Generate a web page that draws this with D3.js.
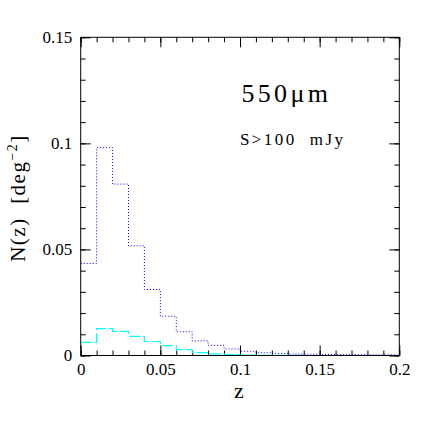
<!DOCTYPE html>
<html>
<head>
<meta charset="utf-8">
<script src="https://cdn.jsdelivr.net/npm/d3@7"></script>
<style>
  html, body { margin: 0; padding: 0; background: #fff; }
  svg { display: block; }
  text { font-family: "Liberation Serif", "DejaVu Serif", "Noto Serif", serif; fill: #000; white-space: pre; }
</style>
</head>
<body>
<script>
// ---- data ----
const binEdges = [0, 0.01, 0.02, 0.03, 0.04, 0.05, 0.06, 0.07, 0.08, 0.09, 0.10,
                  0.11, 0.12, 0.13, 0.14, 0.15, 0.16, 0.17, 0.18, 0.19, 0.20];
const totalCounts = [0.0434, 0.0980, 0.0808, 0.0517, 0.0311, 0.0185, 0.0112, 0.0069, 0.0048, 0.0031,
                     0.0020, 0.0013, 0.0010, 0.0007, 0.0006, 0.0005, 0.0004, 0.0004, 0.0003, 0.0003];
const subCounts = [0.0062, 0.0127, 0.0114, 0.0090, 0.0066, 0.0047, 0.0028, 0.0014, 0.0008, 0.0004,
                   0.0002, 0.0001, 0.0001, 0.0001, 0.0000, 0.0000, 0.0000, 0.0000, 0.0000, 0.0000];
const xTickLabels = ["0", "0.05", "0.1", "0.15", "0.2"];
const yTickLabels = ["0", "0.05", "0.1", "0.15"];
const xMajorTicks = [0, 0.05, 0.1, 0.15, 0.2];
const yMajorTicks = [0, 0.05, 0.1, 0.15];
const xMinorTicks = d3.range(0, 21).map(i => i / 100);
const yMinorTicks = d3.range(0, 16).map(i => i / 100);
const titleText = "550\u03BCm";
const subtitleText = "S>100  mJy";

// ---- layout ----
const W = 436, H = 436;
const pLeft = 80.7, pRight = 399.3, pTop = 37.3, pBottom = 355.5;
const FONT = '"Liberation Serif", "DejaVu Serif", serif';

const svg = d3.select("body").append("svg").attr("width", W).attr("height", H);

const x = d3.scaleLinear().domain([0, 0.2]).range([pLeft, pRight]);
const y = d3.scaleLinear().domain([0, 0.15]).range([pBottom, pTop]);

const fmtX = d => xTickLabels[xMajorTicks.findIndex(v => Math.abs(v - d) < 1e-9)];
const fmtY = d => yTickLabels[yMajorTicks.findIndex(v => Math.abs(v - d) < 1e-9)];

function styleAxis(g) {
  g.attr("font-family", null).attr("font-size", null);
  g.select(".domain").remove();
  g.selectAll(".tick line").attr("stroke", "#000").attr("stroke-width", 1);
  g.selectAll("text").style("font-family", FONT).style("font-size", "17px");
}

// bottom axis
svg.append("g").attr("transform", `translate(0,${pBottom})`)
  .call(d3.axisBottom(x).tickValues(xMinorTicks).tickSize(-5).tickFormat(""))
  .call(styleAxis);
svg.append("g").attr("transform", `translate(0,${pBottom})`)
  .call(d3.axisBottom(x).tickValues(xMajorTicks).tickSize(-10).tickPadding(7.5).tickFormat(fmtX))
  .call(styleAxis);
// top axis
svg.append("g").attr("transform", `translate(0,${pTop})`)
  .call(d3.axisTop(x).tickValues(xMinorTicks).tickSize(-5).tickFormat(""))
  .call(styleAxis);
svg.append("g").attr("transform", `translate(0,${pTop})`)
  .call(d3.axisTop(x).tickValues(xMajorTicks).tickSize(-10).tickFormat(""))
  .call(styleAxis);
// left axis
svg.append("g").attr("transform", `translate(${pLeft},0)`)
  .call(d3.axisLeft(y).tickValues(yMinorTicks).tickSize(-5).tickFormat(""))
  .call(styleAxis);
svg.append("g").attr("transform", `translate(${pLeft},0)`)
  .call(d3.axisLeft(y).tickValues(yMajorTicks).tickSize(-10).tickPadding(8.5).tickFormat(fmtY))
  .call(styleAxis);
// right axis
svg.append("g").attr("transform", `translate(${pRight},0)`)
  .call(d3.axisRight(y).tickValues(yMinorTicks).tickSize(-5).tickFormat(""))
  .call(styleAxis);
svg.append("g").attr("transform", `translate(${pRight},0)`)
  .call(d3.axisRight(y).tickValues(yMajorTicks).tickSize(-10).tickFormat(""))
  .call(styleAxis);

// histograms (step lines)
const stepLine = d3.line().x(d => x(d[0])).y(d => y(d[1])).curve(d3.curveStepAfter);
function histPoints(vals) {
  const pts = vals.map((v, i) => [binEdges[i], v]);
  pts.push([binEdges[binEdges.length - 1], vals[vals.length - 1]]);
  return pts;
}
svg.append("path").attr("d", stepLine(histPoints(subCounts)))
  .attr("fill", "none").attr("stroke", "#00ffff").attr("stroke-width", 1.2)
  .attr("stroke-dasharray", "11,3");
svg.append("path").attr("d", stepLine(histPoints(totalCounts)))
  .attr("fill", "none").attr("stroke", "#0000ff").attr("stroke-width", 1)
  .attr("stroke-dasharray", "1,2");

// frame
svg.append("rect").attr("x", pLeft).attr("y", pTop)
  .attr("width", pRight - pLeft).attr("height", pBottom - pTop)
  .attr("fill", "none").attr("stroke", "#000").attr("stroke-width", 1);

// annotations
svg.append("text").attr("x", 241.5).attr("y", 101.7).style("font-size", "26px")
  .attr("letter-spacing", 3.3).text(titleText);
svg.append("text").attr("x", 240).attr("y", 144.5).style("font-size", "17px")
  .attr("letter-spacing", 2.4).text(subtitleText);

// axis labels
svg.append("text").attr("x", 239).attr("y", 398).style("font-size", "22px")
  .attr("text-anchor", "middle").text("z");

const yl = svg.append("text").attr("transform", "translate(25,198) rotate(-90)")
  .style("font-size", "21px").attr("text-anchor", "middle").attr("letter-spacing", 1.5);
yl.append("tspan").text("N(z)  [deg");
yl.append("tspan").style("font-size", "14px").attr("dy", -8).text("\u22122");
yl.append("tspan").attr("dy", 8).text("]");
</script>
</body>
</html>
